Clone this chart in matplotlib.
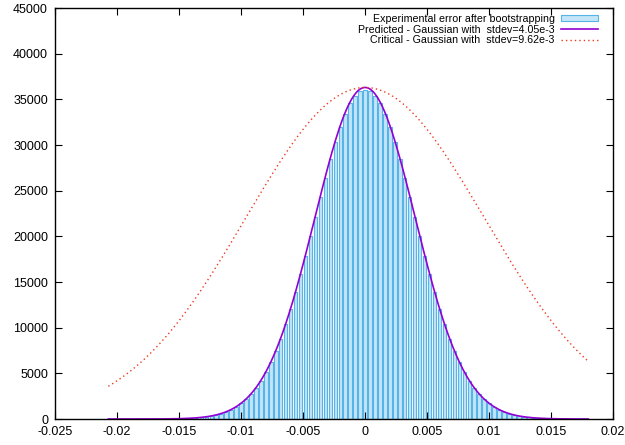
import numpy as np
import matplotlib
matplotlib.use("Agg")
import matplotlib.pyplot as plt

plt.rcParams['font.family'] = ['Liberation Sans', 'DejaVu Sans']

# histogram of the bootstrapped error (bin width 4e-4, centres k*4e-4)
bin_width = 0.0004
bin_index = list(range(-37, 38))
counts_right = [36050, 35870, 35380, 34560, 33400, 31960, 30290, 28430, 26420, 24330,
                22170, 20010, 17890, 15830, 13870, 12040, 10350, 8810, 7430, 6200,
                5120, 4190, 3400, 2730, 2170, 1710, 1330, 1030, 790, 600,
                450, 330, 245, 178, 129, 92, 65, 46]
counts = counts_right[:0:-1] + counts_right

peak = 36300
sd_pred = 4.05e-3
sd_crit = 9.62e-3
curve_lo, curve_hi = -0.0207, 0.018

fig = plt.figure(figsize=(6.25, 4.45), dpi=100)
ax = fig.add_axes([0.088, 0.0584, 0.893, 0.9236])

centres = np.array(bin_index) * bin_width
bars = ax.bar(centres, counts, width=bin_width * 0.7, color='#c4e5f7', edgecolor='#56b4e9',
              linewidth=0.8, label='Experimental error after bootstrapping')

xs = np.linspace(curve_lo, curve_hi, 400)
l1, = ax.plot(xs, peak * np.exp(-xs**2 / (2 * sd_pred**2)), color='#9400d3', lw=1.2,
              label='Predicted - Gaussian with  stdev=4.05e-3')
l2, = ax.plot(xs, peak * np.exp(-xs**2 / (2 * sd_crit**2)), color='#f03a1e', lw=1.0,
              ls=(0, (1, 2.2)), label='Critical - Gaussian with  stdev=9.62e-3')

ax.set_xlim(-0.025, 0.02)
ax.set_ylim(0, 45000)
xt = [-0.025, -0.02, -0.015, -0.01, -0.005, 0, 0.005, 0.01, 0.015, 0.02]
ax.set_xticks(xt)
ax.set_xticklabels(['%g' % v for v in xt])
ax.set_yticks(range(0, 45001, 5000))
ax.set_yticklabels([str(v) for v in range(0, 45001, 5000)])
ax.tick_params(direction='in', length=5, width=0.8, labelsize=9, top=True, right=True,
               colors='black')
ax.tick_params(axis='x', pad=5)
ax.tick_params(axis='y', pad=5)
for s in ax.spines.values():
    s.set_linewidth(1.0)

ax.legend(handles=[bars, l1, l2], loc='upper right', bbox_to_anchor=(0.973, 0.985),
          frameon=False, markerfirst=False, fontsize=7.7, handlelength=3.5,
          handleheight=0.5, handletextpad=0.55, labelspacing=0.05, borderpad=0,
          borderaxespad=0)

fig.savefig('out.png', dpi=100)
